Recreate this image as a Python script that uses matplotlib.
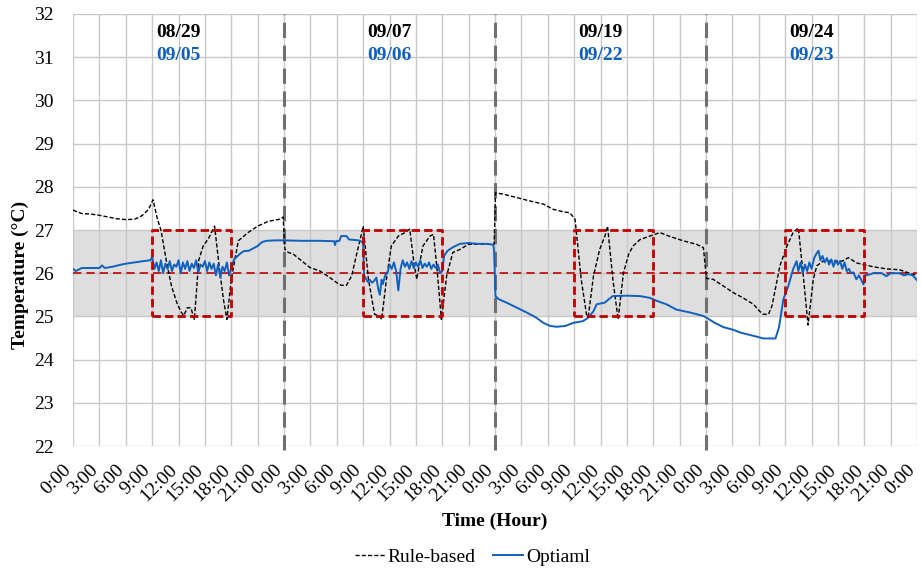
#!/usr/bin/env python3

import numpy as np
import matplotlib.pyplot as plt
from matplotlib.transforms import ScaledTranslation

# ---- data (hours are local to each day, 0-24) ----
rb_day1_h = [0, 0.5, 1, 2, 3, 4, 5, 6, 7, 7.6, 8, 8.6, 9.1, 9.6, 10, 10.6, 11.2, 11.8,
             12.3, 12.6, 13.0, 13.4, 13.8, 14.3, 14.8, 15.4, 16.1, 16.6, 17.1, 17.5,
             18.0, 18.8, 19.9, 21.0, 22.2, 23.5, 23.9]
rb_day1_t = [27.46, 27.42, 27.38, 27.37, 27.34, 27.3, 27.26, 27.24, 27.25, 27.3, 27.36,
             27.48, 27.7, 27.25, 27.0, 26.3, 25.7, 25.32, 25.1, 25.02, 25.2, 25.2, 24.93,
             26.3, 26.63, 26.8, 27.09, 26.2, 25.4, 24.93, 25.86, 26.75, 26.94, 27.09,
             27.2, 27.25, 27.3]

rb_day2_h = [0.1, 0.5, 1.06, 1.8, 2.95, 4.1, 5.2, 6.0, 6.5, 7.1, 7.7, 8.3, 8.8, 9.0, 9.6,
             10.3, 10.9, 11.1, 11.7, 12.2, 13.0, 13.75, 14.3, 14.8, 15.1, 15.4, 15.8,
             16.6, 17.0, 17.4, 17.9, 18.5, 19.2, 20, 21, 22, 23, 23.9]
rb_day2_t = [26.55, 26.48, 26.44, 26.32, 26.13, 26.05, 25.9, 25.78, 25.72, 25.72, 25.94,
             26.48, 26.9, 27.09, 25.86, 25.05, 25.0, 24.93, 25.94, 26.63, 26.86, 26.94,
             27.02, 26.2, 25.86, 26.2, 26.63, 26.86, 26.9, 26.1, 24.93, 25.94, 26.48,
             26.55, 26.67, 26.67, 26.67, 26.67]

rb_day3_h = [0.05, 0.95, 2.5, 4, 5.5, 6.6, 7.8, 8.5, 9.1, 9.8, 10.4, 10.6, 11.2, 11.9,
             12.5, 12.8, 13.4, 14.0, 14.6, 15.2, 15.7, 16.5, 17.5, 18.75, 19.9, 21.4,
             22.9, 23.7]
rb_day3_t = [27.86, 27.83, 27.75, 27.67, 27.6, 27.48, 27.42, 27.4, 27.25, 25.86, 25.05,
             24.99, 25.94, 26.55, 26.86, 27.09, 25.86, 24.93, 26.0, 26.44, 26.63, 26.78,
             26.85, 26.94, 26.85, 26.75, 26.67, 26.59]

rb_day4_h = [0.05, 0.8, 2, 3.1, 4.2, 5.4, 6.1, 6.5, 7.1, 7.5, 8.4, 9.2, 9.9, 10.5, 11.1,
             11.6, 12.2, 12.6, 13.3, 15.5, 16.2, 17.1, 17.9, 19, 20.5, 22, 23.6, 24]
rb_day4_t = [25.88, 25.86, 25.7, 25.55, 25.43, 25.28, 25.12, 25.05, 25.05, 25.24, 26.17,
             26.63, 26.94, 27.05, 25.86, 24.8, 25.86, 26.17, 26.28, 26.28, 26.36, 26.24,
             26.2, 26.15, 26.1, 26.08, 25.97, 25.95]

opt_day1_h = [0, 0.3, 1, 2, 3, 3.3, 3.6, 4.5, 5.5, 6, 7, 8, 8.8, 9.0] + \
    list(np.arange(9.25, 18.0, 0.25)) + [18.0, 18.3, 19, 19.4, 20, 21, 21.5, 22, 23, 24]
opt_day1_t = [26.1, 26.05, 26.12, 26.12, 26.12, 26.18, 26.12, 26.15, 26.2, 26.22, 26.25,
              26.28, 26.3, 26.38,
              26.1, 26.25, 26.05, 26.3, 26.0, 26.22, 26.1, 26.28, 26.05, 26.2, 26.15,
              26.3, 26.0, 26.25, 26.1, 26.28, 26.05, 26.22, 26.12, 26.3, 26.02, 26.2,
              26.15, 26.28, 26.05, 26.25, 26.1, 26.22, 25.95, 26.2, 25.9, 26.15, 26.05,
              26.25, 25.95,
              26.1, 26.32, 26.45, 26.51, 26.52, 26.63, 26.72, 26.75, 26.76, 26.76]

opt_day2_h = [0.05, 2, 4, 5.7, 5.8, 5.9, 6.3, 6.5, 7.1, 7.4, 8.5, 8.9, 9.0, 9.1, 9.25,
              9.5, 9.75, 10, 10.25, 10.5, 10.75, 10.9, 11.1, 11.25, 11.5, 11.75, 12,
              12.25, 12.5, 12.75, 13, 13.25, 13.5, 13.75, 14, 14.25, 14.5, 14.75, 15,
              15.25, 15.5, 15.75, 16, 16.25, 16.5, 16.75, 17, 17.25, 17.5, 17.75, 18,
              18.2, 18.6, 19.2, 20, 21, 22, 23, 23.8, 23.9]
opt_day2_t = [26.76, 26.75, 26.75, 26.74, 26.65, 26.74, 26.75, 26.86, 26.86, 26.78, 26.76,
              26.72, 26.7, 25.95, 25.9, 25.8, 25.85, 25.78, 25.82, 25.9, 25.6, 25.5,
              25.85, 25.75, 25.95, 26.0, 26.2, 26.1, 26.25, 26.05, 25.6, 26.1, 26.3,
              26.15, 26.25, 26.1, 26.28, 26.12, 26.25, 26.15, 26.3, 26.12, 26.22, 26.15,
              26.25, 26.1, 26.2, 26.12, 26.2, 26.0, 26.05, 26.4, 26.52, 26.6, 26.68,
              26.7, 26.68, 26.68, 26.66, 26.5]

opt_day3_h = [0.05, 0.4, 1.3, 2.5, 3.6, 4.7, 5.5, 6.25, 7, 8, 8.9, 10, 10.6, 11.2, 11.55,
              12.5, 13, 13.4, 15, 16.5, 17.6, 18.4, 19.5, 20.6, 22.2, 23.7]
opt_day3_t = [25.47, 25.4, 25.32, 25.2, 25.09, 24.97, 24.85, 24.78, 24.76, 24.78, 24.85,
              24.89, 24.97, 25.12, 25.28, 25.32, 25.41, 25.47, 25.48, 25.47, 25.43, 25.36,
              25.28, 25.16, 25.09, 25.01]

opt_day4_h = [0.05, 1, 2, 3.1, 4, 5, 5.8, 6.5, 7, 7.9, 8.3, 8.8, 9.35, 9.9, 10.3, 10.5,
              10.75, 11, 11.25, 11.5, 11.75, 12, 12.3, 12.6, 12.8, 13, 13.25, 13.5, 13.75,
              14, 14.25, 14.5, 14.75, 15, 15.25, 15.5, 15.75, 16, 16.25, 16.5, 16.75,
              17.1, 17.4, 17.9, 18.1, 18.6, 19, 20, 20.5, 21, 22, 22.5, 23, 23.5, 24]
opt_day4_t = [24.97, 24.85, 24.75, 24.69, 24.62, 24.57, 24.53, 24.49, 24.49, 24.49, 24.75,
              25.4, 25.7, 26.09, 26.28, 26.05, 26.25, 26.0, 26.2, 26.05, 26.25, 26.1,
              26.35, 26.47, 26.52, 26.3, 26.4, 26.25, 26.35, 26.2, 26.32, 26.15, 26.3,
              26.2, 26.28, 26.1, 26.25, 26.05, 26.1, 26.0, 26.02, 25.86, 25.95, 25.74,
              25.95, 25.97, 26.0, 26.0, 25.93, 26.0, 26.0, 25.95, 25.98, 25.95, 25.84]

rb_dates = ["08/29", "09/07", "09/19", "09/24"]
opt_dates = ["09/05", "09/06", "09/22", "09/23"]
tick_labels = [f"{h}:00" for h in range(0, 24, 3)] * 4 + ["0:00"]

BLUE = "#1060c0"
RED = "#c00000"


def join_days(hours_list, temps_list):
    hours = []
    temps = []
    for day, (h, t) in enumerate(zip(hours_list, temps_list)):
        hours += [x + 24 * day for x in h]
        temps += list(t)
    return np.array(hours), np.array(temps)


def main():
    plt.rcParams["font.family"] = ["Liberation Serif", "DejaVu Serif"]

    rb_h, rb_t = join_days([rb_day1_h, rb_day2_h, rb_day3_h, rb_day4_h],
                           [rb_day1_t, rb_day2_t, rb_day3_t, rb_day4_t])
    opt_h, opt_t = join_days([opt_day1_h, opt_day2_h, opt_day3_h, opt_day4_h],
                             [opt_day1_t, opt_day2_t, opt_day3_t, opt_day4_t])

    fig = plt.figure(figsize=(9.21, 5.73), dpi=100)
    ax = fig.add_axes([0.0793, 0.2216, 0.9164, 0.754])

    # comfort band and setpoint
    ax.axhspan(25, 27, color="#dedede", zorder=0, lw=0)
    ax.axhline(26, color=RED, lw=1.2, ls=(0, (5, 3)), zorder=2)

    # occupied-hour boxes
    for day in range(4):
        x0 = 24 * day + 9
        x1 = 24 * day + 18
        ax.plot([x0, x1, x1, x0, x0], [25, 25, 27, 27, 25], color=RED, lw=2,
                ls=(0, (3, 1.5)), zorder=5)

    # day separators
    for day in range(1, 4):
        ax.axvline(24 * day, color="#707070", lw=2.2, ls=(0, (5, 2.5)), zorder=3,
                   ymin=-0.01, clip_on=False)

    ax.plot(rb_h, rb_t, color="black", lw=1.0, ls=(0, (3, 1.5)), zorder=4,
            label="Rule-based")
    ax.plot(opt_h, opt_t, color=BLUE, lw=1.4, zorder=4, label="Optiaml")

    for day in range(4):
        ax.text(24 * day + 12, 31.58, rb_dates[day], ha="center", va="center",
                fontsize=14, fontweight="bold", color="black")
        ax.text(24 * day + 12, 31.05, opt_dates[day], ha="center", va="center",
                fontsize=14, fontweight="bold", color=BLUE)

    ax.set_xlim(0, 96)
    ax.set_ylim(22, 32)
    ticks = np.arange(0, 97, 3)
    ax.set_xticks(ticks)
    ax.set_xticklabels([])
    ax.set_yticks(np.arange(22, 33, 1))
    ax.tick_params(axis="both", length=0, labelsize=14)
    ax.tick_params(axis="y", pad=14)
    ax.grid(True, color="#c8c8c8", lw=1.0, zorder=1)
    ax.set_axisbelow(True)
    for spine in ax.spines.values():
        spine.set_visible(False)

    # rotated hour labels, drawn as texts so they can sit just inside the right edge
    label_trans = ax.get_xaxis_transform() + \
        ScaledTranslation(-4 / 100, -21 / 100, fig.dpi_scale_trans)
    for x, lab in zip(ticks, tick_labels):
        ax.text(x, 0, lab, transform=label_trans, rotation=45, rotation_mode="anchor",
                ha="right", va="center", fontsize=14, clip_on=False)

    ax.set_xlabel("Time (Hour)", fontsize=14, fontweight="bold")
    ax.xaxis.set_label_coords(0.5, -0.155)
    ax.set_ylabel("Temperature (\u00b0C)", fontsize=14, fontweight="bold")
    ax.yaxis.set_label_coords(-0.052, 0.397)

    fig.legend(loc="center", bbox_to_anchor=(0.513, 0.028), ncol=2, frameon=False,
               fontsize=14, handlelength=1.55, handletextpad=0.15, columnspacing=0.9)

    fig.savefig("out.png", dpi=100)
    plt.close(fig)


if __name__ == "__main__":
    main()
